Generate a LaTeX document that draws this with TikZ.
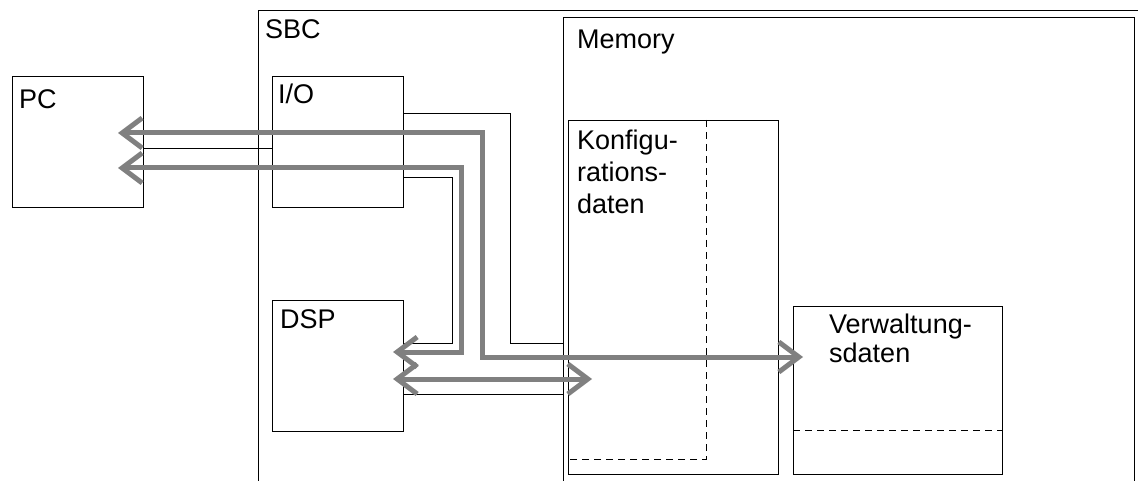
\documentclass[tikz,border=0pt]{standalone}
\usepackage{fontspec}
\setmainfont{Liberation Sans}
\usetikzlibrary{arrows.meta}
\begin{document}
\begin{tikzpicture}[x=1pt,y=-1pt,
  box/.style={draw, line width=1pt, inner sep=0pt, anchor=north west},
  lbl/.style={inner sep=0pt, anchor=base west, font=\fontsize{27}{31}\selectfont},
  mlbl/.style={inner sep=0pt, anchor=north west, align=left},
  wire/.style={line width=0.9pt},
  dsh/.style={line width=0.9pt, dash pattern=on 7pt off 5pt},
  garrow/.style={draw={rgb,255:red,128;green,128;blue,128}, line width=5pt,
    {Straight Barb[length=20pt,width=30pt]}-{Straight Barb[length=20pt,width=30pt]}}]
\useasboundingbox (0,0) rectangle (1138,481);
\clip (0,0) rectangle (1138,481);
% containers
\node[box, minimum width=950pt, minimum height=520pt] (sbc) at (258,10) {};
\node[box, minimum width=571pt, minimum height=520pt] (mem) at (563,17) {};
% boxes
\node[box, minimum width=131pt, minimum height=131pt] (pc) at (12,76) {};
\node[box, minimum width=131pt, minimum height=131pt] (io) at (272,76) {};
\node[box, minimum width=131pt, minimum height=131pt] (dsp) at (272,300) {};
\node[box, minimum width=210pt, minimum height=354pt] (konf) at (568,120) {};
\node[box, minimum width=209pt, minimum height=168pt] (verw) at (793,306) {};
% labels
\node[lbl] (tsbc) at (265,39) {SBC};
\node[lbl] (tmem) at (577,49) {Memory};
\node[lbl] (tpc) at (19,109) {PC};
\node[lbl] (tio) at (278,104) {I/O};
\node[lbl] (tdsp) at (280,328) {DSP};
\node[mlbl, font=\fontsize{27}{32}\selectfont] (tkonf) at (577,130) {Konfigu-\\rations-\\daten};
\node[mlbl, font=\fontsize{27}{29}\selectfont] (tverw) at (829,314) {Verwaltung-\\sdaten};
% dashed partitions
\draw[dsh] (konf.north -| 706,0) -- (706,459) -- (konf.west |- 0,459);
\draw[dsh] (verw.west |- 0,430) -- (verw.east |- 0,430);
% thin wires
\draw[wire] (pc.east |- 0,148) -- (io.west |- 0,148);
\draw[wire] (io.east |- 0,113) -- (510,113) -- (510,343) -- (mem.west |- 0,343);
\draw[wire] (io.east |- 0,177) -- (452,177) -- (452,343) -- (dsp.east |- 0,343);
\draw[wire] (dsp.east |- 0,394) -- (mem.west |- 0,394);
% grey arrows
\coordinate (pcA) at (118,133);
\coordinate (pcB) at (118,168);
\coordinate (verwA) at (803,357);
\coordinate (dspA) at (393,352);
\coordinate (dspB) at (393,379);
\coordinate (konfA) at (592,379);
\draw[garrow] (pcA) -- (482,133) -- (482,357) -- (verwA);
\draw[garrow] (pcB) -- (461,168) -- (461,352) -- (dspA);
\draw[garrow] (dspB) -- (konfA);
\end{tikzpicture}
\end{document}
